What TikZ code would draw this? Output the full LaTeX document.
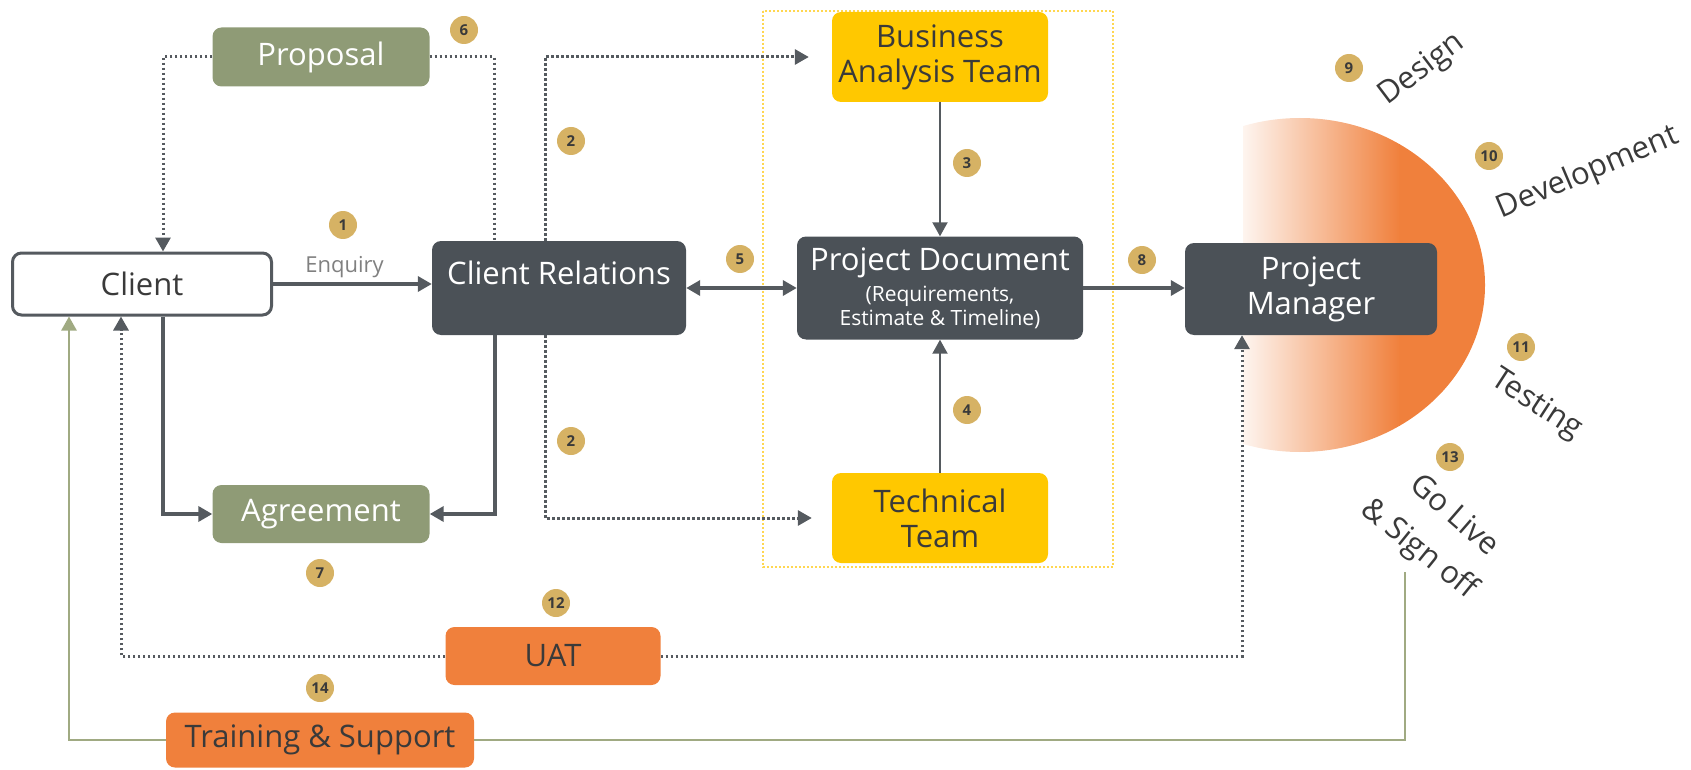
\documentclass[tikz,border=0pt]{standalone}
\usepackage{fontspec}
\setmainfont{Open Sans}
\usetikzlibrary{arrows.meta,positioning}

\definecolor{boxgray}{RGB}{75,81,87}
\definecolor{sage}{RGB}{143,155,118}
\definecolor{teamyellow}{RGB}{255,200,0}
\definecolor{uatorange}{RGB}{240,128,60}
\definecolor{badgetan}{RGB}{214,178,100}
\definecolor{linegray}{RGB}{85,90,95}
\definecolor{signgreen}{RGB}{160,170,130}
\definecolor{frameyellow}{RGB}{255,215,80}
\definecolor{darktext}{RGB}{58,58,58}
\newcommand\subtext{\fontsize{21}{23}\selectfont}

\begin{document}
\begin{tikzpicture}[x=1pt,y=-1pt,
	>={Triangle[length=14pt,width=15pt]},
	every node/.style={font=\fontsize{31}{35}\selectfont},
	box/.style={rounded corners=9pt,inner sep=2pt,align=center},
	darkbox/.style={box,fill=boxgray,text=white},
	sagebox/.style={box,fill=sage,text=white},
	yellowbox/.style={box,fill=teamyellow,text=darktext},
	orangebox/.style={box,fill=uatorange,text=darktext},
	badge/.style={circle,fill=badgetan,text=darktext,inner sep=0pt,minimum size=28pt,font=\fontsize{15}{15}\selectfont\bfseries},
	phase/.style={text=darktext,inner sep=1pt,font=\fontsize{31}{35}\selectfont},
	link/.style={line width=3.5pt,draw=linegray,->},
	dotline/.style={line width=3pt,draw=linegray,dash pattern=on 2.5pt off 2.5pt},
	dotlink/.style={dotline,->},
	greenline/.style={line width=2.5pt,draw=signgreen}
	]
	
	\useasboundingbox (0,0) rectangle (1691,770);
	
	% half disc behind the project manager
	\begin{scope}
		\clip (1243,0) rectangle (1500,770);
		\clip (1300,285) ellipse [x radius=185,y radius=167];
		\shade[left color=uatorange!8,right color=uatorange] (1243,100) rectangle (1400,470);
		\fill[uatorange] (1399,100) rectangle (1500,470);
	\end{scope}
	
	\draw[frameyellow,line width=2pt,dash pattern=on 2pt off 2pt] (763,11) rectangle (1113,567);
	
	\node[box,draw=linegray,line width=3pt,fill=white,text=darktext,minimum width=259pt,minimum height=62pt] (client) at (142,284) {Client};
	\node[darkbox,minimum width=254pt,minimum height=94pt] (cr) at (559,288) {};
	\node[text=white] (crtext) at (559,273) {Client Relations};
	\node[sagebox,minimum width=217pt,minimum height=59pt] (proposal) at (321,57) {Proposal};
	\node[sagebox,minimum width=217pt,minimum height=58pt] (agreement) at (321,514) {Agreement};
	\node[yellowbox,minimum width=216pt,minimum height=90pt] (ba) at (940,57) {Business\\Analysis Team};
	\node[yellowbox,minimum width=216pt,minimum height=90pt] (tech) at (940,518) {Technical\\Team};
	\node[darkbox,minimum width=286pt,minimum height=103pt] (pd) at (940,288) {Project Document\\[-4pt]{\subtext (Requirements,}\\[-11pt]{\subtext Estimate \& Timeline)}};
	\node[darkbox,minimum width=252pt,minimum height=92pt] (pm) at (1311,289) {Project\\Manager};
	\node[orangebox,minimum width=215pt,minimum height=58pt] (uat) at (553,656) {UAT};
	\node[orangebox,minimum width=308pt,minimum height=55pt] (train) at (320,740) {Training \& Support};
	\coordinate (signoff) at (1405,572);
	
	% connectors
	\draw[link] (client.east) -- (client.east -| cr.west) node[pos=0.45,above=1pt,text=gray,font=\fontsize{22}{24}\selectfont] (enquiry) {Enquiry};
	\draw[link,<->] (cr.east) -- (cr.east -| pd.west);
	\draw[link] (pd.east) -- (pd.east -| pm.west);
	\draw[link,line width=2pt] (ba) -- (pd);
	\draw[link,line width=2pt] (tech) -- (pd);
	\draw[dotlink] (proposal.west) -| ([xshift=21pt]client.north);
	\draw[dotline] (proposal.east) -| ([xshift=-65pt]cr.north);
	\draw[dotlink,shorten >=23pt] ([xshift=-14pt]cr.north) |- (ba.west);
	\draw[dotlink,shorten >=20pt] ([xshift=-14pt]cr.south) |- (tech.west);
	\draw[link] ([xshift=21pt]client.south) |- (agreement.west);
	\draw[link] ([xshift=-64pt]cr.south) |- (agreement.east);
	\draw[dotlink] (uat.west) -| ([xshift=-21pt]client.south);
	\draw[dotlink] (uat.east) -| ([xshift=-69pt]pm.south);
	\draw[greenline] (signoff) |- (train.east);
	\draw[greenline,->] (train.west) -| ([xshift=-73pt]client.south);
	
	% step numbers
	\node[badge] (n1) at (343,225) {1};
	\node[badge] (n2a) at (571,141) {2};
	\node[badge] (n2b) at (571,441) {2};
	\node[badge] (n3) at (967,163) {3};
	\node[badge] (n4) at (967,410) {4};
	\node[badge] (n5) at (740,259) {5};
	\node[badge] (n6) at (464,30) {6};
	\node[badge] (n7) at (320,573) {7};
	\node[badge] (n8) at (1142,260) {8};
	\node[badge] (n9) at (1349,68) {9};
	\node[badge] (n10) at (1489,156) {10};
	\node[badge] (n11) at (1521,347) {11};
	\node[badge] (n12) at (556,603) {12};
	\node[badge] (n13) at (1450,457) {13};
	\node[badge] (n14) at (320,688) {14};
	
	% phases
	\node[phase,rotate=37] (design) at (1422,70) {Design};
	\node[phase,rotate=23] (dev) at (1588,173) {Development};
	\node[phase,rotate=-33] (testing) at (1536,405) {Testing};
	\node[phase,rotate=-41] (golive) at (1456,514) {Go Live};
	\node[phase,rotate=-39] (signoff-text) at (1419,550) {\& Sign off};
	
\end{tikzpicture}
\end{document}
